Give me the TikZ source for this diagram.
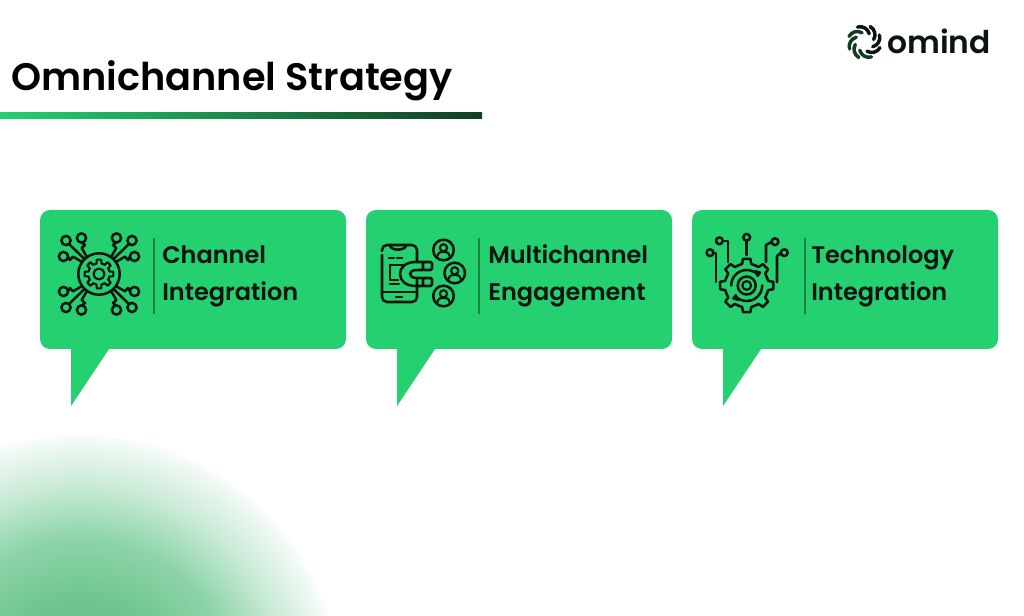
\documentclass[tikz,border=0pt]{standalone}
\usepackage{fontspec}
\setmainfont{Poppins}
\newfontfamily\popfont{Poppins SemiBold}
\newfontfamily\ttlfont{Poppins SemiBold}
\usetikzlibrary{arrows.meta,calc}
\definecolor{bubble}{HTML}{25D070}
\definecolor{inkk}{HTML}{0C1410}
\definecolor{sep}{HTML}{17803F}
\definecolor{dkgreen}{HTML}{113D22}
\definecolor{ba}{HTML}{6FC48F}
\definecolor{bb}{HTML}{8DD4A8}
\definecolor{bc}{HTML}{C8EAD5}
\definecolor{bd}{HTML}{EEF8F2}
\pgfdeclareradialshading{blob}{\pgfpoint{0bp}{0bp}}{
 color(0bp)=(ba);
 color(9bp)=(ba);
 color(15bp)=(bb);
 color(20bp)=(bc);
 color(24bp)=(bd);
 color(25.5bp)=(white);
 color(50bp)=(white)}
\tikzset{
 x=0.75pt,y=-0.75pt,
 bubblefill/.style={fill=bubble,draw=none},
 ico/.style={draw=inkk,line width=1.9pt,line cap=round,line join=round,fill=none},
 thinico/.style={draw=inkk,line width=1.6pt,line cap=round,line join=round,fill=none},
 lbl/.style={font=\popfont\fontsize{18}{18}\selectfont,text=inkk,anchor=base west,inner sep=0pt},
 sepline/.style={draw=sep,line width=0.9pt},
 pics/speech/.style={code={
  \path[bubblefill,rounded corners=7.5pt] (0,0) rectangle (306,139);
  \path[bubblefill] (31,130) -- (31,196) -- (69,139) -- (69,130) -- cycle;
 }},
}
\begin{document}
\begin{tikzpicture}
\useasboundingbox (0,0) rectangle (1024,616);
\fill[white] (0,0) rectangle (1024,616);
% blob
\begin{scope}
\clip (0,0) rectangle (1024,616);
\shade[shading=blob] (80,695) circle [radius=260];
\end{scope}
% title
\node[font=\ttlfont\fontsize{28.7}{28.7}\selectfont,text=black,anchor=base west,inner sep=0pt] (title) at (11,91) {Omnichannel Strategy};
\shade[left color=bubble,right color=dkgreen] (0,113) rectangle (482,119);
% logo
\node[font=\ttlfont\fontsize{23.5}{23.5}\selectfont,text=inkk,anchor=base west,inner sep=0pt] (logotext) at (887,54) {omind};
\begin{scope}[shift={(864.5,42)}]
 \foreach \a/\c in {-20/inkk,25/inkk,70/inkk,115/inkk,160/dkgreen,205/dkgreen,250/dkgreen,295/dkgreen}{
  \draw[rotate=\a,line width=2.6pt,line cap=round,draw=\c] (0:16.5) .. controls (20:16.5) and (40:13.5) .. (55:9.5);
 }
\end{scope}
% bubbles
\pic (b1) at (40,210) {speech};
\pic (b2) at (366,210) {speech};
\pic (b3) at (692,210) {speech};
% separators
\draw[sepline] (154,238) -- (154,314);
\draw[sepline] (479,238) -- (479,314);
\draw[sepline] (805,238) -- (805,314);
% labels
\node[lbl] (l1a) at (162,264) {Channel};
\node[lbl] (l1b) at (162,301) {Integration};
\node[lbl] (l2a) at (488,264) {Multichannel};
\node[lbl] (l2b) at (488,301) {Engagement};
\node[lbl] (l3a) at (811,264) {Technology};
\node[lbl] (l3b) at (811,301) {Integration};
% icon 1
\begin{scope}[shift={(99,274)}]
 \draw[ico] (0,0) circle (20.7);
 \draw[thinico] (0,0) circle (5.5);
 \foreach \a in {0,45,...,315}{
  \draw[thinico,rotate=\a] (-22.5:10.8) -- (-13:10.8) -- (-9:14.5) -- (9:14.5) -- (13:10.8) -- (22.5:10.8);
 }
 \foreach \sx/\sy in {1/1,-1/1,1/-1,-1/-1}{
  \begin{scope}[xscale=\sx,yscale=\sy]
   \draw[ico] (30,30) -- (15,15.5);
   \draw[ico] (33,33.5) circle (4.6);
   \draw[ico] (17,31.5) -- (14,29) -- (17.3,26) -- (12.3,17.3);
   \draw[ico] (17.5,36) circle (4.6);
   \draw[ico] (31,17) -- (29,14) -- (26,17.3) -- (17.3,12.3);
   \draw[ico] (35.5,17.5) circle (4.6);
  \end{scope}
 }
\end{scope}
% icon 2: phone
\begin{scope}[shift={(360,220)}]
 \draw[ico] (22,31) -- (22,30) arc[start angle=180,end angle=270,radius=5] -- (52,25) arc[start angle=270,end angle=360,radius=5] -- (57,42);
 \draw[ico] (22,35) -- (22,77) arc[start angle=180,end angle=90,radius=5] -- (52,82) arc[start angle=90,end angle=0,radius=5] -- (57,60);
 \draw[ico] (22,72) -- (57,72);
 \draw[ico] (36,77) -- (42,77);
 \draw[ico] (30,25.5) .. controls (31,31) and (45,31) .. (46,25.5);
 \draw[ico] (29,38) -- (34,38);
 \draw[ico] (37,38) -- (42,38);
 \draw[ico] (43,45) -- (30,45) -- (30,60) -- (38,60);
 \draw[ico] (30,64) -- (39,64);
 % magnet
 \draw[ico] (63,42) -- (56,42) .. controls (46,42) and (40,47) .. (40,54) .. controls (40,61) and (46,66) .. (56,66) -- (63,66);
 \draw[ico] (63,50) -- (57,50) .. controls (52,50) and (50,52) .. (50,54) .. controls (50,56) and (52,58) .. (57,58) -- (63,58);
 \draw[ico,rounded corners=1pt] (63,42) rectangle (72,50);
 \draw[ico,rounded corners=1pt] (63,58) rectangle (72,66);
 % people
 \foreach \px/\py in {83.5/30,94.7/53,83.5/76}{
  \begin{scope}[shift={(\px,\py)}]
   \draw[ico] (0,0) circle (10.3);
   \draw[thinico] (0,-2.2) circle (3.6);
   \draw[thinico] (-6,6) .. controls (-5.5,2.4) and (-3,1.8) .. (0,1.8) .. controls (3,1.8) and (5.5,2.4) .. (6,6);
  \end{scope}
 }
\end{scope}
% icon 3
\begin{scope}[shift={(690,220)}]
 \begin{scope}[shift={(56.7,65.5)}]
  \foreach \a in {0,45,...,315}{
   \draw[ico,rotate=\a] (-22.5:21.8) -- (-12:22) -- (-8:26.8) -- (8:26.8) -- (12:22) -- (22.5:21.8);
  }
  \draw[ico] (0,0) circle (9);
  \draw[thinico] (0,0) circle (4.4);
  \draw[ico] (180:15.5) arc[start angle=180,end angle=315,radius=15.5];
  \draw[ico] (0:15.5) arc[start angle=0,end angle=135,radius=15.5];
  \draw[thinico,fill=inkk] (13.5,-13) -- (8.5,-14.5) -- (11,-9.5) -- cycle;
  \draw[thinico,fill=inkk] (-13.5,13) -- (-8.5,14.5) -- (-11,9.5) -- cycle;
 \end{scope}
 \draw[ico] (56.7,35) -- (56.7,20.8);
 \draw[ico] (56.7,17.3) circle (3.4);
 \draw[ico] (38,42) -- (38,21) -- (33,21);
 \draw[ico] (29.4,20.8) circle (3.4);
 \draw[ico] (76,42) -- (76,25) -- (81.5,22);
 \draw[ico] (85,21.7) circle (3.4);
 \draw[ico] (26,62) -- (26,33) -- (23.5,33);
 \draw[ico] (20,32.7) circle (3.4);
 \draw[ico] (87,62) -- (87,36) -- (90.8,33);
 \draw[ico] (94.3,32.7) circle (3.4);
\end{scope}
\end{tikzpicture}
\end{document}
